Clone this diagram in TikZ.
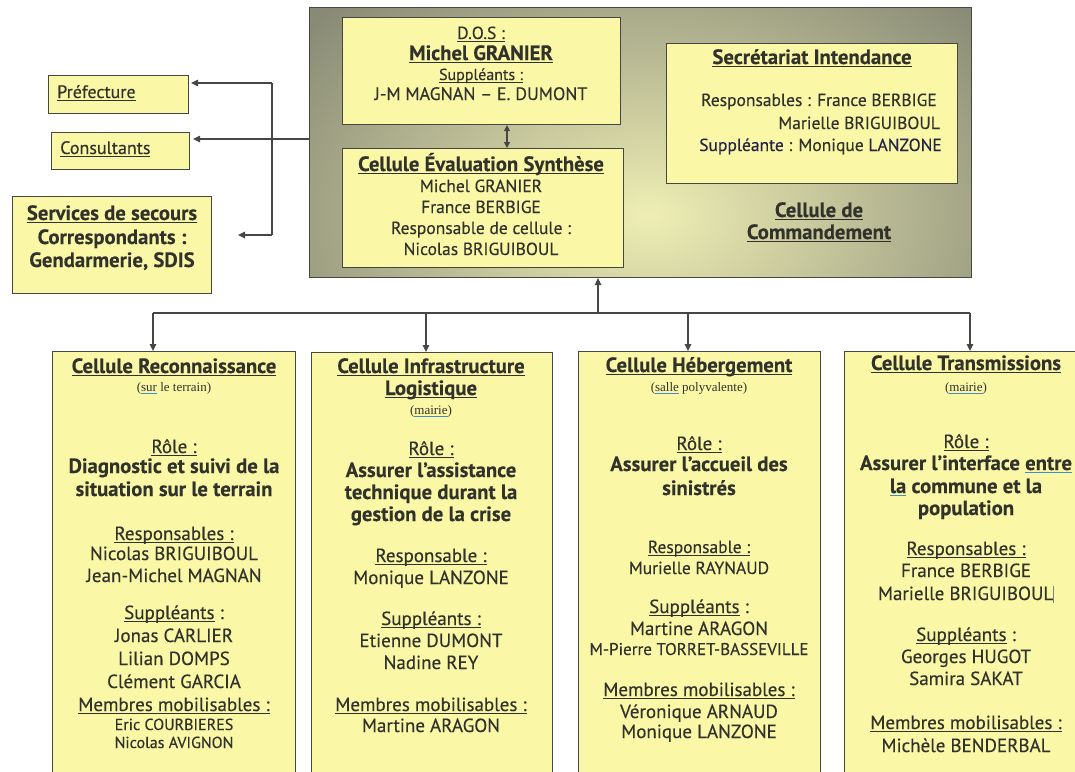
\documentclass[tikz,border=0pt]{standalone}
\usepackage{fontspec}
\setmainfont{PT Sans}[UprightFeatures={FakeBold=0.35},BoldFeatures={FakeBold=0.15}]
\newfontfamily\seriffont{Liberation Serif}
\usetikzlibrary{arrows.meta}
\definecolor{yel}{RGB}{250,248,166}
\definecolor{tc}{RGB}{50,50,44}
\definecolor{lc}{RGB}{70,70,66}
\definecolor{gout}{RGB}{136,138,118}
\definecolor{gin}{RGB}{238,238,180}
\definecolor{blu}{RGB}{70,140,200}
\definecolor{navy}{RGB}{36,36,72}
\newsavebox{\ulbox}
\newcommand{\uline}[1]{\sbox{\ulbox}{#1}\rlap{\rule[-2.6pt]{\wd\ulbox}{0.9pt}}\usebox{\ulbox}}
\newcommand{\bul}[1]{\sbox{\ulbox}{#1}\rlap{\textcolor{blu}{\rule[-3.2pt]{\wd\ulbox}{1pt}}}\usebox{\ulbox}}
\newcommand{\fA}{\fontsize{19}{22}\selectfont}
\newcommand{\fT}{\fontsize{18}{22}\selectfont}
\newcommand{\fB}{\fontsize{17.5}{20}\selectfont}
\newcommand{\fD}{\fontsize{17}{20}\selectfont}
\newcommand{\fC}{\fontsize{16}{18}\selectfont}
\newcommand{\fH}{\fontsize{20.7}{24}\selectfont\bfseries}
\newcommand{\fS}{\fontsize{13}{15}\selectfont\seriffont}
\newcommand{\lines}[4]{%
  \foreach \yy/\tx [count=\i] in {#4}
    \node[txt,#3] (#1\i) at (#2,\yy+5) {\tx};}
\begin{document}
\begin{tikzpicture}[x=1pt,y=-1pt,
  box/.style={draw=lc, fill=yel, line width=1.1pt, inner sep=0pt, anchor=north west},
  txt/.style={anchor=base, inner sep=0pt, text=tc, font=\fA},
  ln/.style={draw=lc, line width=1.2pt},
  arr/.style={ln, -{Triangle[length=7pt,width=6.5pt]}},
  arr2/.style={ln, {Triangle[length=6pt,width=6pt]}-{Triangle[length=6pt,width=6pt]}}]
\useasboundingbox (0,0) rectangle (1075,771);
\clip (0,0) rectangle (1075,771);
\fill[white] (0,0) rectangle (1075,771);

% command cell background
\begin{scope}
\clip (309,7) rectangle (971,277);
\fill[gout] (309,7) rectangle (971,277);
\shade[inner color=gin, outer color=gout] (650,215) ellipse (440 and 300);
\end{scope}
\node[draw=lc, line width=1.1pt, inner sep=0pt, anchor=north west,
  minimum width=662, minimum height=270] (cmd) at (309,7) {};

% boxes inside command cell
\node[box, minimum width=278, minimum height=107] (dos) at (342,17) {};
\node[box, minimum width=281, minimum height=119] (ces) at (342,148) {};
\node[box, minimum width=291, minimum height=140] (sec) at (666,43) {};

% left boxes
\node[box, minimum width=140, minimum height=38] (pref) at (48,75) {};
\node[box, minimum width=138, minimum height=37] (cons) at (51,132) {};
\node[box, minimum width=199, minimum height=97] (secours) at (12,196) {};

% bottom boxes
\node[box, minimum width=243, minimum height=460] (b1) at (52,351) {};
\node[box, minimum width=241, minimum height=460] (b2) at (311,352) {};
\node[box, minimum width=242, minimum height=460] (b3) at (578,351) {};
\node[box, minimum width=242, minimum height=460] (b4) at (844,351) {};

% connectors left
\coordinate (jt) at (272,83);
\coordinate (jc) at (272,139);
\coordinate (jb) at (272,235);
\coordinate (sv) at (238,235);
\draw[ln] (jt) -- (jb);
\draw[arr] (jt) -- ([xshift=2pt]pref.east |- jt);
\draw[arr] (cmd.west |- jc) -- ([xshift=3pt]cons.east |- jc);
\draw[arr] (jb) -- (sv);

% double arrow DOS - CES
\draw[arr2] (507,0 |- dos.south) -- (507,0 |- ces.north);

% bottom bus
\coordinate (d1) at (153,313);
\coordinate (d2) at (426,313);
\coordinate (d3) at (688,313);
\coordinate (d4) at (970,313);
\coordinate (up) at (598,313);
\draw[ln] (d1) -- (d4);
\draw[arr] (up) -- (up |- cmd.south);
\draw[arr] (d1) -- (d1 |- b1.north);
\draw[arr] (d2) -- (d2 |- b2.north);
\draw[arr] (d3) -- (d3 |- b3.north);
\draw[arr] (d4) -- (d4 |- b4.north);

% texts: top
\lines{tdos}{481}{font=\fT}{34/{\fB\uline{D.O.S :}},55/{\fH\uline{Michel GRANIER}},75/{\fontsize{16}{18}\selectfont\uline{Suppléants :}},95/{J-M MAGNAN – E. DUMONT}}
\lines{tces}{481}{font=\fB}{166/{\fH\uline{Cellule Évaluation Synthèse}},187/{Michel GRANIER},208/{France BERBIGE},229/{Responsable de cellule :},250/{Nicolas BRIGUIBOUL}}
\lines{tsec}{812}{}{59/{\fH\uline{Secrétariat Intendance}}}
\node[txt, anchor=base east, font=\fB] (tsec2) at (937,106) {Responsables : France BERBIGE};
\node[txt, anchor=base east, font=\fB] (tsec3) at (940,129) {Marielle BRIGUIBOUL};
\node[txt, anchor=base east, font=\fB] (tsec4) at (942,151) {\textcolor{navy}{Suppléante} : Monique \textcolor{navy}{LANZONE}};
\lines{tcmd}{819}{}{212/{\fH\uline{Cellule de}},234/{\fH\uline{Commandement}}}

% texts: left
\node[txt, anchor=base west, font=\fT] (tpref) at (57,98) {\uline{Préfecture}};
\node[txt, anchor=base west, font=\fT] (tcons) at (60,154) {\uline{Consultants}};
\lines{tsrv}{112}{}{215/{\fH\uline{Services de secours}},239/{\fH Correspondants :},262/{\fH Gendarmerie, SDIS}}

% texts: bottom boxes
\lines{tb1}{174}{}{368/{\fH\uline{Cellule Reconnaissance}},386/{\fS(\bul{sur} le terrain)},448/{\uline{Rôle :}},468/{\fH Diagnostic et suivi de la},491/{\fH situation sur le terrain},535/{\uline{Responsables :}},555/{Nicolas BRIGUIBOUL},577/{Jean-Michel MAGNAN},614/{\uline{Suppléants} :},637/{Jonas CARLIER},660/{Lilian DOMPS},683/{Clément GARCIA},706/{\uline{Membres mobilisables :}},725/{\fC Eric COURBIERES},743/{\fC Nicolas AVIGNON}}
\lines{tb2}{431}{}{368/{\fH\uline{Cellule Infrastructure}},390/{\fH\uline{Logistique}},409/{\fS(\bul{mairie})},450/{\uline{Rôle :}},472/{\fH Assurer l’assistance},494/{\fH technique durant la},516/{\fH gestion de la crise},557/{\uline{Responsable :}},579/{Monique LANZONE},620/{\uline{Suppléants :}},642/{Etienne DUMONT},664/{Nadine REY},706/{\uline{Membres mobilisables :}},727/{Martine ARAGON}}
\lines{tb3}{699}{}{367/{\fH\uline{Cellule Hébergement}},386/{\fS(\bul{salle} polyvalente)},445/{\uline{Rôle :}},466/{\fH Assurer l’accueil des},490/{\fH sinistrés},548/{\fB\uline{Responsable :}},569/{\fB Murielle RAYNAUD},608/{\uline{Suppléants} :},630/{Martine ARAGON},650/{\fD M-Pierre TORRET-BASSEVILLE},691/{\uline{Membres mobilisables :}},713/{Véronique ARNAUD},733/{Monique LANZONE}}
\lines{tb4}{966}{}{365/{\fH\uline{Cellule Transmissions}},386/{\fS(\bul{mairie})},443/{\uline{Rôle :}},465/{\fH Assurer l’interface \bul{entre}},488/{\fH\bul{la} commune et la},510/{\fH population},550/{\uline{Responsables :}},572/{France BERBIGE},595/{Marielle BRIGUIBOUL\textcolor{gray}{\rule[-3pt]{0.8pt}{17pt}}},636/{\uline{Suppléants} :},658/{Georges HUGOT},680/{Samira SAKAT},724/{\uline{Membres mobilisables :}},747/{Michèle BENDERBAL}}
\end{tikzpicture}
\end{document}
